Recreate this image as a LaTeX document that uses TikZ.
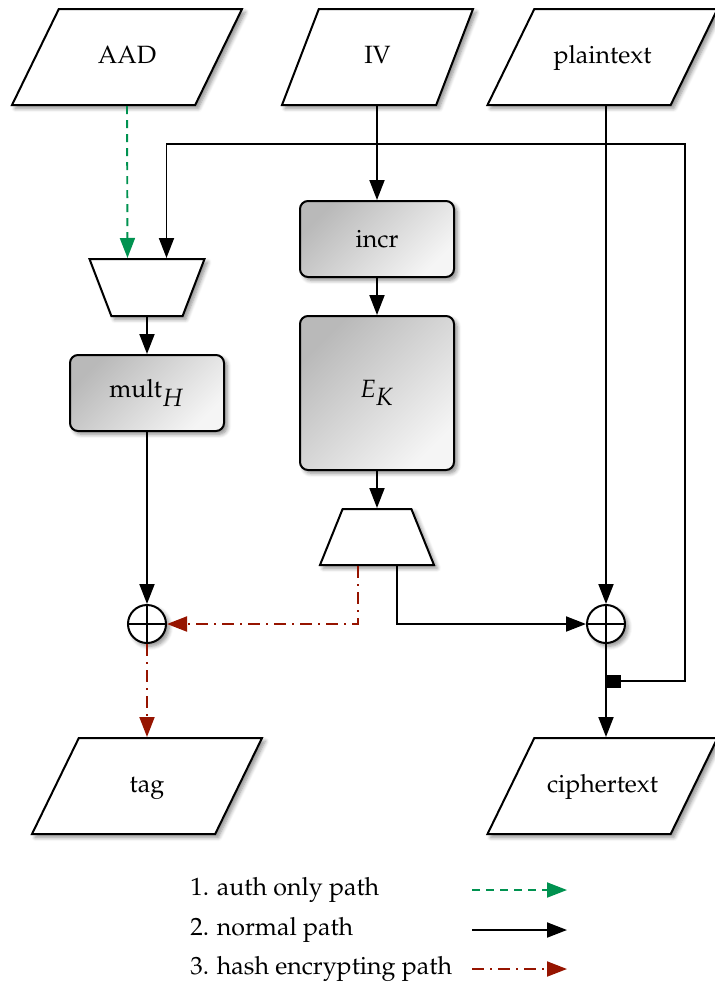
\documentclass[tikz,border=0pt]{standalone}
\usepackage[T1]{fontenc}
\usepackage{mathpazo}
\usetikzlibrary{positioning}
\usetikzlibrary{shapes.geometric}
\usetikzlibrary{arrows.meta}
\usetikzlibrary{shadows.blur}
\definecolor{authgreen}{RGB}{0,146,80}
\definecolor{hashred}{RGB}{150,20,0}
\newcommand{\muxshift}{9.75pt}
\newcommand{\txtsize}{\fontsize{12.5}{15}\selectfont}
\tikzstyle{softshadow} = [blur shadow={shadow xshift=1.6pt, shadow yshift=-1.6pt, shadow blur radius=2pt, shadow blur steps=6, shadow opacity=45}]
\tikzstyle{io} = [trapezium, trapezium stretches body, draw=black, fill=white, line width=1pt, trapezium left angle=64, trapezium right angle=116, minimum width=115pt, minimum height=48pt, inner xsep=1pt, inner ysep=18pt, text height=9pt, text depth=3pt, font=\txtsize, softshadow]
\tikzstyle{block} = [rectangle, rounded corners=4pt, draw=black, line width=1pt, top color=gray!55, bottom color=gray!8, shading angle=45, minimum width=77pt, minimum height=38pt, font=\txtsize, softshadow]
\tikzstyle{mux} = [trapezium, trapezium stretches body, draw=black, fill=white, line width=1pt, trapezium angle=69, minimum width=57.5pt, minimum height=28.5pt, inner xsep=1pt, inner ysep=14.25pt, text height=0pt, text depth=0pt, softshadow]
\tikzstyle{xor} = [circle, draw=black, fill=white, line width=1pt, minimum size=19pt, inner sep=0pt, softshadow, path picture={\draw[line width=1pt] (path picture bounding box.north) -- (path picture bounding box.south) (path picture bounding box.west) -- (path picture bounding box.east);}]
\tikzstyle{tapbox} = [rectangle, fill=black, minimum width=7pt, minimum height=6.5pt, inner sep=0pt, anchor=west]
\tikzstyle{legend} = [anchor=west, inner sep=0pt, font=\txtsize]
\tikzstyle{normalpath} = [draw=black, line width=0.95pt, -{Triangle[length=10pt,width=7.5pt]}]
\tikzstyle{authpath} = [normalpath, draw=authgreen, dash pattern=on 4pt off 3pt]
\tikzstyle{hashpath} = [normalpath, draw=hashred, dash pattern=on 6pt off 3pt on 1pt off 3pt]

\begin{document}
\begin{tikzpicture}[x=0.5pt, y=-0.5pt]

		\useasboundingbox (0,0) rectangle (714,987);

		% inputs
		\node (aad) [io] at (127,57) {AAD};
		\node (iv) [io, trapezium left angle=69, trapezium right angle=111, minimum width=95.5pt] at (377.5,57) {IV};
		\node (plain) [io] at (602.5,57) {plaintext};

		% counter mode
		\node (incr) [block] at (377,239) {incr};
		\node (ek) [block, minimum height=77pt] at (377,393) {$E_{\textstyle K}$};
		\node (lmux) [mux, minimum width=57pt, minimum height=28pt, inner ysep=14pt, trapezium angle=68] at (377,537) {};
		\node (xorR) [xor] at (606,624) {};

		% hash
		\node (umux) [mux, shape border rotate=180] at (147,287.5) {};
		\node (mult) [block] at (147,393) {mult$_{\textstyle H}$};
		\node (xorL) [xor] at (147,624) {};

		% outputs
		\node (tag) [io] at (147,786) {tag};
		\node (cipher) [io] at (602.5,786) {ciphertext};
		\node (tap) [tapbox] at (606.5,681) {};
		\coordinate (fbcorner) at (685,144);

		\draw [authpath] (aad.south) -- ([xshift=-\muxshift]umux.north);
		\draw [normalpath] (tap.east) -| (fbcorner) -| ([xshift=\muxshift]umux.north);
		\draw [normalpath] (umux.south) -- (mult.north);
		\draw [normalpath] (mult.south) -- (xorL.north);
		\draw [normalpath] (iv.south -| incr) -- (incr.north);
		\draw [normalpath] (incr.south) -- (ek.north);
		\draw [normalpath] (ek.south) -- (lmux.north);
		\draw [hashpath] ([xshift=-9.5pt]lmux.south) |- (xorL.east);
		\draw [normalpath] ([xshift=10pt]lmux.south) |- (xorR.west);
		\draw [normalpath] (plain.south -| xorR) -- (xorR.north);
		\draw [normalpath] (xorR.south) -- (xorR.south |- cipher.north);
		\draw [hashpath] (xorL.south) -- (xorL.south |- tag.north);

		% legend
		\coordinate (legA) at (472,0);
		\coordinate (legB) at (567,0);
		\node (leg1) [legend] at (190,890) {1. auth only path};
		\node (leg2) [legend] at (190,930) {2. normal path};
		\node (leg3) [legend] at (190,969) {3. hash encrypting path};
		\draw [authpath] (leg1.west -| legA) -- (leg1.west -| legB);
		\draw [normalpath] (leg2.west -| legA) -- (leg2.west -| legB);
		\draw [hashpath] (leg3.west -| legA) -- (leg3.west -| legB);

\end{tikzpicture}
\end{document}
